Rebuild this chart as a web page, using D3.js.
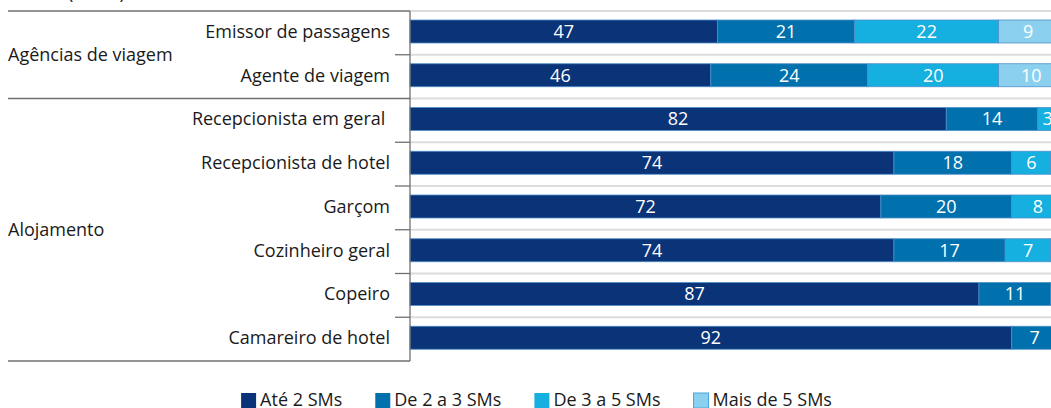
<!DOCTYPE html>
<meta charset="utf-8"/>
<title>Faixa salarial por ocupação</title>
<style>
    body {
        margin: 0;
        background: #fff;
    }

    text {
        font-family: "Open Sans", sans-serif;
        font-size: 18px;
        fill: #1a1a1a;
    }

    .value {
        fill: #fff;
        font-size: 18px;
        text-anchor: middle;
    }

    .grid {
        stroke: #dcdcdc;
        stroke-width: 2px;
    }

    .rule {
        stroke: #707070;
        stroke-width: 1.3px;
    }
</style>
<script src="https://cdn.jsdelivr.net/npm/d3@7"></script>
<svg id="chart" width="1051" height="408"></svg>
<script>
    "use strict";

    // faixas salariais (SM = salário mínimo)
    const series = ["Até 2 SMs", "De 2 a 3 SMs", "De 3 a 5 SMs", "Mais de 5 SMs"];
    const colors = ["#0b3378", "#0071ad", "#15b0e0", "#8cd0ef"];

    const groups = ["Agências de viagem", "Alojamento"];
    const jobs = [
        "Emissor de passagens", "Agente de viagem",
        "Recepcionista em geral", "Recepcionista de hotel", "Garçom",
        "Cozinheiro geral", "Copeiro", "Camareiro de hotel"
    ];
    const jobGroup = [0, 0, 1, 1, 1, 1, 1, 1];

    // em %, uma lista por faixa, na ordem de jobs
    const ate2 = [47, 46, 82, 74, 72, 74, 87, 92];
    const de2a3 = [21, 24, 14, 18, 20, 17, 11, 7];
    const de3a5 = [22, 20, 3, 6, 8, 7, 2, 1];
    const mais5 = [9, 10, 1, 2, 0, 2, 0, 0];
    const values = [ate2, de2a3, de3a5, mais5];

    const svg = d3.select("#chart");

    const x = d3.scaleLinear().domain([0, 100]).range([410, 1064]);
    const row = d3.scaleBand().domain(jobs).range([11, 361]);
    const barTop = 9, barH = 23;

    const rows = jobs.map(function (name, i)
    {
        return {name: name, group: jobGroup[i], i: i};
    });

    // grid lines behind bars
    svg.append("g").selectAll("line")
        .data(rows)
        .enter()
        .append("line")
        .attr("class", "grid")
        .attr("x1", x(0))
        .attr("x2", 1051)
        .attr("y1", function (d) { return row(d.name); })
        .attr("y2", function (d) { return row(d.name); });

    // stacked bars
    const table = rows.map(function (r)
    {
        const o = {name: r.name};
        series.forEach(function (s, k) { o[s] = values[k][r.i]; });
        return o;
    });
    const stacked = d3.stack().keys(series)(table);

    const layer = svg.append("g").selectAll("g")
        .data(stacked)
        .enter()
        .append("g")
        .attr("fill", function (d, k) { return colors[k]; });

    layer.selectAll("rect")
        .data(function (d) { return d.filter(function (p) { return p[1] > p[0]; }); })
        .enter()
        .append("rect")
        .attr("x", function (p) { return x(p[0]); })
        .attr("width", function (p) { return x(p[1]) - x(p[0]); })
        .attr("y", function (p) { return row(p.data.name) + barTop; })
        .attr("height", barH)
        .attr("stroke", "#4d8fcb")
        .attr("stroke-width", 0.8);

    layer.selectAll("text")
        .data(function (d) { return d.filter(function (p) { return p[1] > p[0]; }); })
        .enter()
        .append("text")
        .attr("class", "value")
        .attr("x", function (p) { return (x(p[0]) + x(p[1])) / 2; })
        .attr("y", function (p) { return row(p.data.name) + barTop + barH / 2; })
        .attr("dy", "0.36em")
        .text(function (p) { return p[1] - p[0]; });

    // left axis: vertical rule, group separators, ticks
    const yTop = row(jobs[0]);
    const yBottom = row(jobs[jobs.length - 1]) + row.step();

    svg.append("line")
        .attr("class", "rule")
        .attr("x1", x(0)).attr("x2", x(0))
        .attr("y1", yTop).attr("y2", yBottom);

    const separators = [yTop];
    const ticks = [];
    rows.forEach(function (r, i)
    {
        if (i === 0) return;
        if (r.group !== rows[i - 1].group) separators.push(row(r.name));
        else ticks.push(row(r.name));
    });
    separators.push(yBottom);

    svg.append("g").selectAll("line")
        .data(separators)
        .enter()
        .append("line")
        .attr("class", "rule")
        .attr("x1", 8).attr("x2", x(0))
        .attr("y1", function (d) { return d; })
        .attr("y2", function (d) { return d; });

    svg.append("g").selectAll("line")
        .data(ticks)
        .enter()
        .append("line")
        .attr("class", "rule")
        .attr("x1", 395).attr("x2", x(0))
        .attr("y1", function (d) { return d; })
        .attr("y2", function (d) { return d; });

    // occupation labels
    svg.append("g").selectAll("text")
        .data(rows)
        .enter()
        .append("text")
        .attr("x", 390)
        .attr("y", function (d) { return row(d.name) + barTop + barH / 2; })
        .attr("dy", "0.36em")
        .attr("text-anchor", "end")
        .style("white-space", "pre")
        .text(function (d) { return d.i === 2 ? d.name + " " : d.name; });

    // group labels
    svg.append("g").selectAll("text")
        .data(groups)
        .enter()
        .append("text")
        .attr("x", 8)
        .attr("y", function (g, gi)
        {
            const members = rows.filter(function (r) { return r.group === gi; });
            const y0 = row(members[0].name);
            const y1 = row(members[members.length - 1].name) + row.step();
            return (y0 + y1) / 2;
        })
        .attr("dy", "0.36em")
        .text(function (g) { return g; });

    // unit note, cut at the top edge
    svg.append("text")
        .attr("x", 68)
        .attr("y", -1)
        .text("(Em %)");

    // legend, centred below the chart
    const legend = svg.append("g");
    const item = legend.selectAll("g")
        .data(series)
        .enter()
        .append("g");

    item.append("rect")
        .attr("width", 15)
        .attr("height", 15)
        .attr("y", -13)
        .attr("fill", function (d, k) { return colors[k]; })
        .attr("stroke", function (d, k) { return k === 3 ? "#4aa6dc" : "none"; });

    item.append("text")
        .attr("x", 19)
        .text(function (d) { return d; });

    const gap = 33;
    var offset = 0;
    item.each(function ()
    {
        const w = 19 + this.querySelector("text").getComputedTextLength();
        d3.select(this).attr("transform", "translate(" + offset + ",0)");
        offset += w + gap;
    });
    offset -= gap;
    legend.attr("transform", "translate(" + (536.5 - offset / 2) + ",406)");
</script>
